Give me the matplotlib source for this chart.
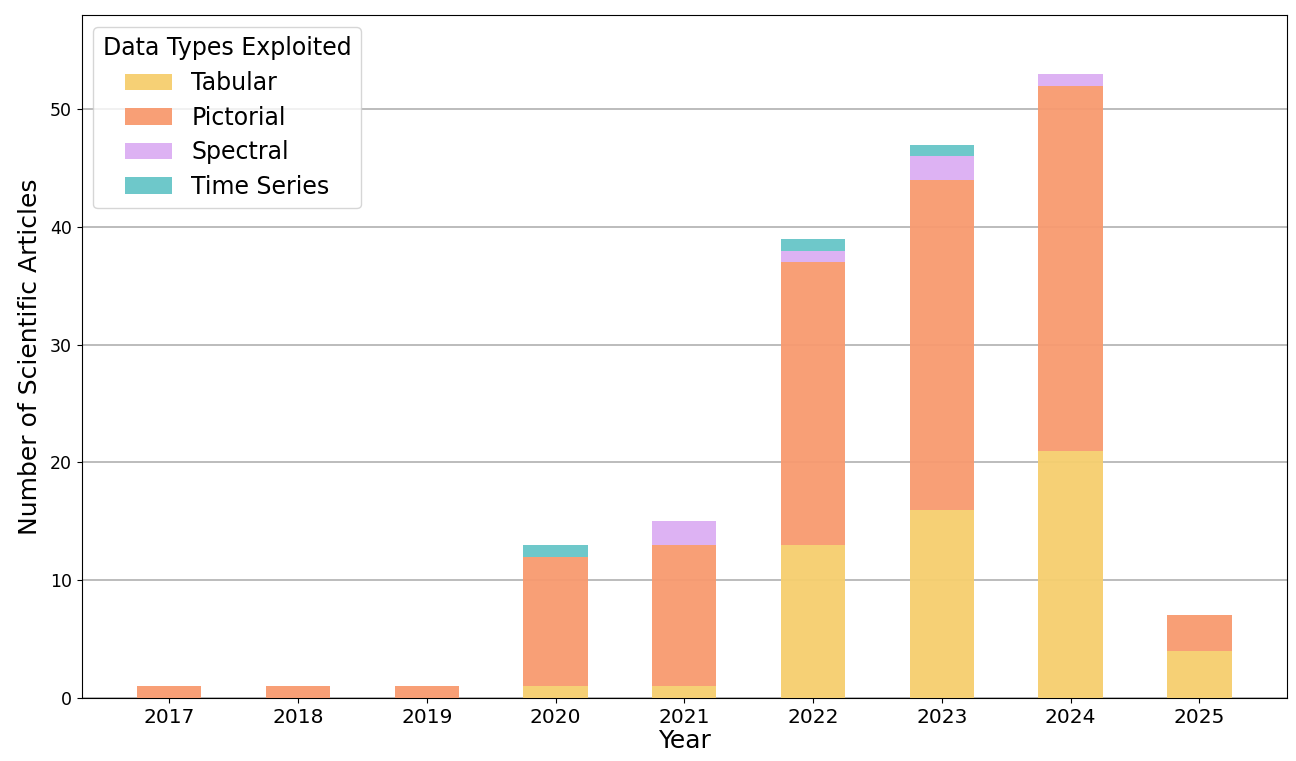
import matplotlib
matplotlib.use("Agg")
import matplotlib.pyplot as plt
import numpy as np

years = ["2017", "2018", "2019", "2020", "2021", "2022", "2023", "2024", "2025"]
tabular = [0, 0, 0, 1, 1, 13, 16, 21, 4]
pictorial = [1, 1, 1, 11, 12, 24, 28, 31, 3]
spectral = [0, 0, 0, 0, 2, 1, 2, 1, 0]
time_series = [0, 0, 0, 1, 0, 1, 1, 0, 0]

series = [("Tabular", tabular, "#F6CE6E"),
          ("Pictorial", pictorial, "#F89A6F"),
          ("Spectral", spectral, "#DCAEF3"),
          ("Time Series", time_series, "#66C5C8")]

fig, ax = plt.subplots(figsize=(12.96, 7.61), dpi=100)
x = np.arange(len(years))
bottom = np.zeros(len(years))
for name, vals, col in series:
    v = np.array(vals, dtype=float)
    ax.bar(x, v, 0.5, bottom=bottom, color=col, label=name, alpha=0.95, zorder=3)
    bottom += v

ax.set_axisbelow(True)
ax.yaxis.grid(True, color="#b0b0b0", linewidth=1.2, zorder=0)
ax.set_xticks(x)
ax.set_xticklabels(years, fontsize=14.5)
ax.tick_params(axis="y", labelsize=12.5)
ax.set_xlim(-0.68, len(years) - 0.32)
ax.set_ylim(0, 58)
ax.set_xlabel("Year", fontsize=18, labelpad=2)
ax.set_ylabel("Number of Scientific Articles", fontsize=18, labelpad=6)
ax.legend(title="Data Types Exploited", fontsize=17, title_fontsize=17, loc="upper left",
          borderaxespad=0.5, labelspacing=0.45)
fig.subplots_adjust(left=0.063, right=0.993, top=0.98, bottom=0.083)
fig.savefig("out.png", dpi=100)
